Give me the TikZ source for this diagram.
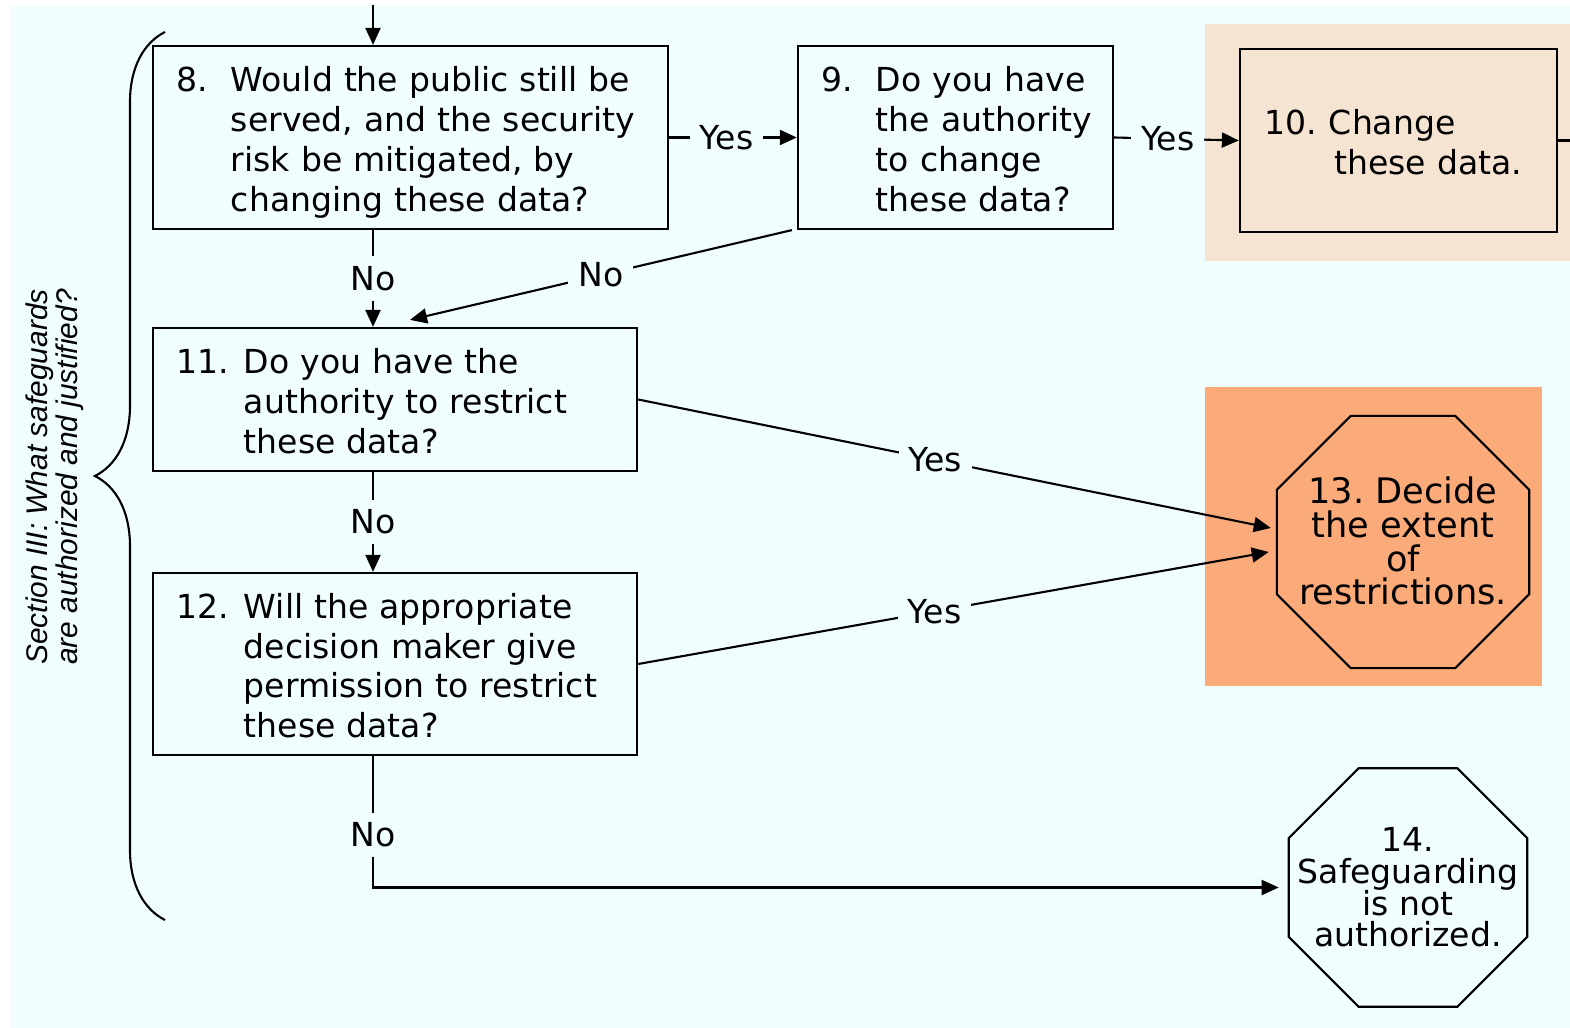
\documentclass[tikz,border=0pt]{standalone}
\usepackage{fontspec}
\setmainfont{DejaVu Sans}
\newfontfamily\sidefont{Liberation Sans}
\usetikzlibrary{arrows.meta,shapes.geometric,decorations.pathreplacing}
\definecolor{bgcyan}{RGB}{241,254,255}
\definecolor{bgpeach}{RGB}{245,228,209}
\definecolor{bgorange}{RGB}{251,170,122}
\newcommand{\qitem}[3]{\raisebox{-0.06cm}[\height][\depth]{\makebox[#1][l]{#2}\begin{tabular}[t]{@{}l@{}}#3\end{tabular}}}
\newcommand{\stoptext}[1]{\makebox[0pt]{\smash{\raisebox{-0.08cm}{\parbox[c]{3cm}{\centering\lineskiplimit=-10pt\relax #1}}}}}

\begin{document}
\frenchspacing
\begin{tikzpicture}[x=0.01cm,y=-0.01cm,
  font=\fontsize{9.4}{11.3}\selectfont,
  qbox/.style={draw,line width=0.6pt,rectangle,inner xsep=0.24cm,inner ysep=0pt,align=left},
  stopsign/.style={draw,line width=0.6pt,regular polygon,regular polygon sides=8,inner sep=0pt,align=center},
  arr/.style={line width=0.6pt,-{Triangle[length=0.17cm,width=0.15cm]}},
  lbl/.style={fill=bgcyan,inner sep=0.1cm}]
\useasboundingbox (0,0) rectangle (1570,1028);
\fill[bgcyan] (11,6) rectangle (1570,1028);
\fill[bgpeach] (1205,24) rectangle (1570,261);
\fill[bgorange] (1205,387) rectangle (1542,686);

% section brace
\draw[line width=0.6pt,decorate,decoration={brace,amplitude=0.7cm}] (165,920) -- (165,32);
\node[rotate=90,font=\sidefont\itshape\fontsize{8.5}{8.5}\selectfont,align=center] (sect) at (55,477)
  {Section III: What safeguards\\are authorized and justified?};

% questions
\node[qbox,text width=4.67cm,minimum height=1.83cm] (n8) at (410.5,137.5)
  {\qitem{0.54cm}{8.}{Would the public still be\\served, and the security\\risk be mitigated, by\\changing these data?}};
\node[qbox,text width=2.67cm,minimum height=1.83cm] (n9) at (955.5,137.5)
  {\qitem{0.54cm}{9.}{Do you have\\the authority\\to change\\these data?}};
\node[qbox,text width=2.67cm,minimum height=1.83cm,inner xsep=0.25cm] (n10) at (1398.5,140.5)
  {\qitem{0.64cm}{10.}{Change\\\,these data.}};
\node[qbox,text width=4.36cm,minimum height=1.43cm] (n11) at (395,399.5)
  {\qitem{0.67cm}{11.}{Do you have the\\authority to restrict\\these data?}};
\node[qbox,text width=4.36cm,minimum height=1.82cm] (n12) at (395,664)
  {\qitem{0.67cm}{12.}{Will the appropriate\\decision maker give\\permission to restrict\\these data?}};

% outcomes
\node[stopsign,minimum size=2.73cm,font=\fontsize{10}{9.6}\selectfont] (n13) at (1403,542)
  {\stoptext{13. Decide\\the extent\\of\\restrictions.}};
\node[stopsign,minimum size=2.58cm,font=\fontsize{9.4}{9}\selectfont] (n14) at (1408,887.5)
  {\stoptext{14.\\Safeguarding\\is not\\authorized.}};

% connectors
\coordinate (entry) at (373,5);
\coordinate (exit10) at (1570,140.5);
\draw[arr] (entry) -- (entry |- n8.north);
\draw[arr] (n8.east) -- node[lbl,pos=0.45]{Yes} (n9.west);
\draw[arr] (n9.east) -- node[lbl,pos=0.43]{Yes} (n10.west);
\draw[line width=0.6pt] (n10.east) -- (exit10);
\draw[arr] (n8.south -| entry) -- node[lbl]{No} (n11.north -| entry);
\draw[arr] ([xshift=-0.05cm]n9.south west) -- node[lbl]{No} ([xshift=0.15cm,yshift=0.07cm]n11.north);
\draw[arr] (n11.south -| entry) -- node[lbl]{No} (n12.north -| entry);
\draw[arr] (n11.east) -- node[lbl,pos=0.47]{Yes} ([xshift=-0.05cm,yshift=0.14cm]n13.west);
\draw[arr] (n12.east) -- node[lbl,pos=0.47]{Yes} ([xshift=-0.07cm,yshift=-0.1cm]n13.west);
\draw[arr] (n12.south -| entry) |- node[lbl,pos=0.3]{No} ([xshift=-0.09cm]n14.west);
\end{tikzpicture}
\end{document}
